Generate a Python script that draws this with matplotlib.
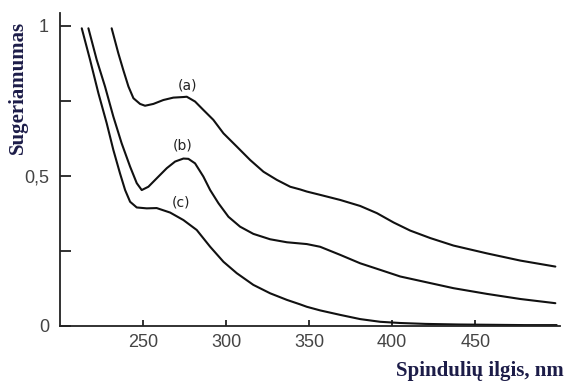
import matplotlib
matplotlib.use("Agg")
import matplotlib.pyplot as plt

# Curve (a)
a_x = [231.1, 235.1, 238.1, 241.2, 244.2, 248.2, 251.2, 256.2, 262.2, 268.2, 274.3, 276.3, 281.3, 286.3,
       292.3, 298.4, 306.4, 314.5, 322.5, 330.5, 338.6, 344.6, 348.6, 356.6, 368.7, 380.7, 390.8,
       400.8, 410.8, 422.9, 436.9, 457.0, 477.1, 498.2]
a_y = [0.992, 0.909, 0.853, 0.798, 0.759, 0.740, 0.734, 0.740, 0.753, 0.761, 0.763, 0.764, 0.748, 0.720,
       0.687, 0.642, 0.598, 0.553, 0.514, 0.487, 0.464, 0.455, 0.448, 0.437, 0.420, 0.400, 0.376,
       0.345, 0.318, 0.293, 0.268, 0.242, 0.218, 0.198]

# Curve (b)
b_x = [217.1, 222.1, 227.1, 232.1, 237.1, 242.2, 246.2, 249.2, 253.2, 258.2, 264.3, 269.3, 274.3, 277.3,
       281.3, 286.3, 290.4, 295.4, 301.4, 308.4, 316.4, 326.5, 336.6, 344.6, 348.6, 356.6, 368.7,
       380.7, 392.8, 404.8, 422.9, 436.9, 457.0, 477.1, 498.2]
b_y = [0.992, 0.887, 0.798, 0.698, 0.609, 0.531, 0.476, 0.453, 0.464, 0.492, 0.526, 0.548, 0.558, 0.557,
       0.542, 0.498, 0.453, 0.409, 0.364, 0.331, 0.307, 0.289, 0.279, 0.275, 0.273, 0.264, 0.237,
       0.209, 0.187, 0.165, 0.143, 0.126, 0.107, 0.090, 0.076]

# Curve (c)
c_x = [213.1, 218.1, 223.1, 228.1, 232.1, 236.1, 239.2, 242.2, 246.2, 252.2, 258.2, 266.3, 274.3, 282.3,
       290.4, 298.4, 306.4, 316.4, 326.5, 336.6, 344.6, 348.6, 356.6, 368.7, 380.7, 392.8, 404.8,
       420.0, 440.0, 460.0, 480.0, 499.0]
c_y = [0.992, 0.887, 0.776, 0.676, 0.587, 0.509, 0.453, 0.414, 0.395, 0.392, 0.393, 0.378, 0.353, 0.320,
       0.264, 0.214, 0.176, 0.137, 0.109, 0.087, 0.072, 0.064, 0.052, 0.037, 0.023, 0.014, 0.010,
       0.007, 0.005, 0.004, 0.003, 0.003]

curve_labels = ["(a)", "(b)", "(c)"]
label_pos = [(277, 0.80), (274, 0.603), (273, 0.413)]

x_ticks = [250, 300, 350, 400, 450]
y_ticks = [0, 0.5, 1]
y_tick_labels = ["0", "0,5", "1"]
y_minor = [0.25, 0.75]

fig = plt.figure(figsize=(5.66, 3.82), dpi=100)
ax = fig.add_axes([60/566, 1-326/382, 500/566, 313/382])

for xs, ys in [(a_x, a_y), (b_x, b_y), (c_x, c_y)]:
    ax.plot(xs, ys, color="#111111", lw=1.5, solid_capstyle="round", solid_joinstyle="round")

for lab, (lx, ly) in zip(curve_labels, label_pos):
    ax.text(lx, ly, lab, ha="center", va="center", fontsize=10,
            family="DejaVu Sans", color="#222222")

ax.set_xlim(200, 501)
ax.set_ylim(0, 1.043)
ax.spines["top"].set_visible(False)
ax.spines["right"].set_visible(False)
for s in ["left", "bottom"]:
    ax.spines[s].set_linewidth(1.3)
    ax.spines[s].set_color("#222222")

ax.set_xticks(x_ticks)
ax.set_xticklabels([str(t) for t in x_ticks])
ax.set_yticks(y_ticks)
ax.set_yticklabels(y_tick_labels)
ax.set_yticks(y_minor, minor=True)
ax.tick_params(axis="both", which="both", direction="in", color="#222222",
               labelsize=13, labelcolor="#444444", width=1.3)
ax.tick_params(axis="y", which="both", length=8, pad=8)
ax.tick_params(axis="x", which="major", length=4, pad=6)
for t in ax.get_xticklabels() + ax.get_yticklabels():
    t.set_family("Liberation Sans")

fig.text(18/566, 1-87/382, "Sugeriamumas", rotation=90, ha="center", va="center",
         fontsize=15, fontweight="bold", family="Liberation Serif", color="#1c1c48")
fig.text(564/566, 1-371/382, "Spindulių ilgis, nm", ha="right", va="center",
         fontsize=15, fontweight="bold", family="Liberation Serif", color="#1c1c48")

fig.savefig("out.png", dpi=100)
